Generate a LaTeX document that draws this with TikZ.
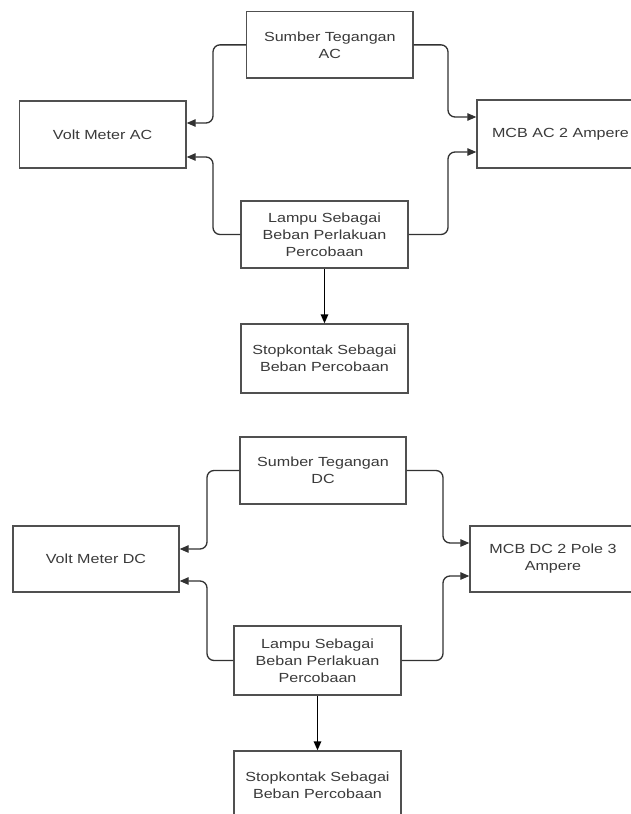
\documentclass[tikz,border=0pt]{standalone}
\usepackage{fontspec}
\setmainfont{Liberation Sans}[FakeStretch=1.22]
\usetikzlibrary{arrows.meta}
\definecolor{boxline}{RGB}{80,80,80}
\definecolor{txtcol}{RGB}{58,58,58}
\definecolor{wirecol}{RGB}{50,50,50}
\begin{document}
\begin{tikzpicture}[x=1pt,y=-1pt,
  blk/.style={draw=boxline, line width=1.4pt, rectangle, inner sep=0pt, align=center,
    text=txtcol, font=\fontsize{13.2}{17}\selectfont},
  conn/.style={draw=wirecol, line width=1.3pt, rounded corners=7pt,
    -{Triangle[length=9pt,width=7.5pt]}},
  down/.style={draw=black, line width=1.4pt, -{Triangle[length=9pt,width=7.5pt]}}]
\fill[white] (0,0) rectangle (631,814);
\useasboundingbox (0,0) rectangle (631,814);
% ---------- AC ----------
\node[blk, minimum width=166.3pt, minimum height=66.3pt] (sac) at (329.85,44.85) {Sumber Tegangan\\AC};
\node[blk, minimum width=166.7pt, minimum height=67pt] (vac) at (102.65,134.5) {Volt Meter AC};
\node[blk, minimum width=167pt, minimum height=68pt] (mac) at (560.5,134) {MCB AC 2 Ampere};
\node[blk, minimum width=167pt, minimum height=67pt] (lac) at (324.5,234.5) {Lampu Sebagai\\Beban Perlakuan\\Percobaan};
\node[blk, minimum width=167pt, minimum height=69pt] (kac) at (324.5,358.5) {Stopkontak Sebagai\\Beban Percobaan};
\draw[conn] (sac.west) -- (213,44.85) -- (213,123) -- ([shift={(0,-11.5)}]vac.east);
\draw[conn] (lac.west) -- (213,234.5) -- (213,157) -- ([shift={(0,22.5)}]vac.east);
\draw[conn] (sac.east) -- (448,44.85) -- (448,117) -- ([shift={(0,-17)}]mac.west);
\draw[conn] (lac.east) -- (448,234.5) -- (448,152) -- ([shift={(0,18)}]mac.west);
\draw[down] (lac.south) -- (kac.north);
% ---------- DC ----------
\node[blk, minimum width=166pt, minimum height=67pt] (sdc) at (323,470.5) {Sumber Tegangan\\DC};
\node[blk, minimum width=166pt, minimum height=66pt] (vdc) at (96,559) {Volt Meter DC};
\node[blk, minimum width=166pt, minimum height=66pt] (mdc) at (553,559) {MCB DC 2 Pole 3\\Ampere};
\node[blk, minimum width=167pt, minimum height=69pt] (ldc) at (317.5,660.5) {Lampu Sebagai\\Beban Perlakuan\\Percobaan};
\node[blk, minimum width=167pt, minimum height=69pt] (kdc) at (317.5,785.5) {Stopkontak Sebagai\\Beban Percobaan};
\draw[conn] (sdc.west) -- (207,470.5) -- (207,549) -- ([shift={(0,-10)}]vdc.east);
\draw[conn] (ldc.west) -- (207,660.5) -- (207,581) -- ([shift={(0,22)}]vdc.east);
\draw[conn] (sdc.east) -- (443,470.5) -- (443,543) -- ([shift={(0,-16)}]mdc.west);
\draw[conn] (ldc.east) -- (443,660.5) -- (443,576) -- ([shift={(0,17)}]mdc.west);
\draw[down] (ldc.south) -- (kdc.north);
\end{tikzpicture}
\end{document}
